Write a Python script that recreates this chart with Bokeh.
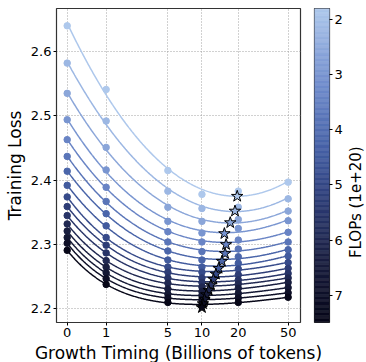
import numpy as np
from bokeh.plotting import figure
from bokeh.layouts import row, column
from bokeh.models import Range1d, FixedTicker, CustomJSTickFormatter
from bokeh.core.properties import value
from bokeh.embed import file_html
from bokeh.resources import INLINE

# ---------------- data ----------------
growth_t = [0, 1, 5, 10, 20, 50]
flops = [1.8, 2.2, 2.6, 3.0, 3.4, 3.8, 4.2, 4.5, 4.9, 5.3, 5.6, 6.0, 6.4, 6.7, 7.1, 7.5]
loss_t0 = [2.640, 2.582, 2.535, 2.494, 2.463, 2.437, 2.414, 2.392, 2.374, 2.359, 2.345, 2.332, 2.321, 2.311, 2.302, 2.291]
loss_t1 = [2.541, 2.492, 2.451, 2.416, 2.389, 2.367, 2.348, 2.329, 2.311, 2.299, 2.287, 2.275, 2.265, 2.256, 2.247, 2.238]
loss_t5 = [2.415, 2.383, 2.358, 2.336, 2.320, 2.304, 2.290, 2.276, 2.265, 2.257, 2.248, 2.240, 2.231, 2.223, 2.217, 2.210]
loss_t10 = [2.378, 2.356, 2.336, 2.318, 2.304, 2.289, 2.276, 2.265, 2.257, 2.248, 2.241, 2.234, 2.227, 2.221, 2.214, 2.206]
loss_t20 = [2.383, 2.358, 2.339, 2.325, 2.307, 2.293, 2.281, 2.271, 2.262, 2.253, 2.245, 2.239, 2.232, 2.224, 2.217, 2.210]
loss_t50 = [2.397, 2.371, 2.352, 2.337, 2.319, 2.304, 2.292, 2.282, 2.272, 2.263, 2.255, 2.248, 2.241, 2.233, 2.225, 2.218]
opt_t = [19.6, 18.8, 17.2, 15.4, 15.9, 15.6, 14.7, 13.8, 13.1, 12.5, 11.9, 11.4, 10.9, 10.5, 10.2, 10.0]
opt_loss = [2.375, 2.352, 2.334, 2.317, 2.300, 2.286, 2.274, 2.263, 2.254, 2.246, 2.237, 2.229, 2.222, 2.215, 2.208, 2.202]
y_ticks = [2.2, 2.3, 2.4, 2.5, 2.6]
cbar_ticks = [2, 3, 4, 5, 6, 7]
cbar_low, cbar_high = 1.8, 7.5
x_label = "Growth Timing (Billions of tokens)"
y_label = "Training Loss"
cbar_label = "FLOPs (1e+20)"

FONT = "DejaVu Sans"

# ---------------- colormap ----------------
stops = [(0.0, (7, 7, 24)), (0.2, (26, 31, 64)), (0.4, (47, 63, 122)),
         (0.55, (69, 96, 165)), (0.75, (111, 139, 203)), (1.0, (174, 200, 236))]

def cmap(frac):
    frac = min(max(frac, 0.0), 1.0)
    for (f0, c0), (f1, c1) in zip(stops[:-1], stops[1:]):
        if frac <= f1:
            w = (frac - f0) / (f1 - f0)
            c = [int(round(a + (b - a) * w)) for a, b in zip(c0, c1)]
            return "#%02x%02x%02x" % tuple(c)
    return "#%02x%02x%02x" % stops[-1][1]

def color_of(v):
    return cmap((cbar_high - v) / (cbar_high - cbar_low))

def fwd(t):
    return np.log10(1.0 + np.asarray(t, dtype=float))

def fit_curve(t, L):
    t = np.asarray(t, dtype=float)
    L = np.asarray(L, dtype=float)
    u = fwd(t)
    best = None
    for a in np.linspace(0.05, 4.0, 400):
        X = np.column_stack([np.ones_like(t), (1 + t) ** (-a), u])
        coef = np.linalg.lstsq(X, L, rcond=None)[0]
        r = float(np.sum((X @ coef - L) ** 2))
        if best is None or r < best[0]:
            best = (r, a, coef)
    return best[1], best[2]

H_MAIN = 342
B_BOT = 20

# ---------------- main figure ----------------
p = figure(width=302, height=H_MAIN, output_backend="svg", toolbar_location=None,
           x_range=Range1d(-0.0827, 1.803), y_range=Range1d(2.1788, 2.6669),
           min_border_left=56, min_border_right=2, min_border_top=6, min_border_bottom=B_BOT)
p.outline_line_color = "#333333"
p.outline_line_width = 1.2

columns = [loss_t0, loss_t1, loss_t5, loss_t10, loss_t20, loss_t50]
u_pts = fwd(growth_t)
u_fine = np.linspace(0, fwd(50), 300)
t_fine = 10 ** u_fine - 1

for i, f in enumerate(flops):
    L = [col[i] for col in columns]
    a, coef = fit_curve(growth_t, L)
    curve = coef[0] + coef[1] * (1 + t_fine) ** (-a) + coef[2] * u_fine
    c = color_of(f)
    p.line(u_fine, curve, line_color=c, line_width=1.5)
    p.scatter(u_pts, L, size=6.5, fill_color=c, line_color=c)

star_colors = [color_of(f) for f in flops]
p.scatter(fwd(opt_t), opt_loss, marker="star", size=12, fill_color=star_colors,
          line_color="black", line_width=1)

p.xaxis.ticker = FixedTicker(ticks=list(u_pts))
p.xaxis.formatter = CustomJSTickFormatter(code="return String(Math.round(Math.pow(10, tick) - 1));")
p.yaxis.ticker = FixedTicker(ticks=y_ticks)
p.yaxis.axis_label = y_label
for ax in (p.xaxis, p.yaxis):
    ax.axis_label_text_font = FONT
    ax.axis_label_text_font_style = "normal"
    ax.axis_label_text_font_size = "17px"
    ax.axis_label_text_color = "black"
    ax.major_label_text_font = FONT
    ax.major_label_text_font_size = "13px"
    ax.major_label_text_color = "black"
    ax.axis_line_color = None
    ax.major_tick_line_color = "black"
    ax.major_tick_out = 3
    ax.major_tick_in = 0
    ax.minor_tick_line_color = None
    ax.major_label_standoff = 2
    ax.axis_label_standoff = 3
p.grid.grid_line_color = "#9a9a9a"
p.grid.grid_line_dash = "1 2"
p.grid.grid_line_width = 1
p.grid.grid_line_alpha = 0.9

# ---------------- colorbar figure ----------------
cb = figure(width=43, height=H_MAIN, output_backend="svg", toolbar_location=None,
            x_range=Range1d(0, 1), y_range=Range1d(7.49, 1.806),
            x_axis_location=None, y_axis_location="right",
            min_border_left=12, min_border_right=14, min_border_top=8, min_border_bottom=B_BOT)
edges = np.linspace(1.806, 7.49, 257)
seg_colors = [color_of(0.5 * (a + b)) for a, b in zip(edges[:-1], edges[1:])]
cb.quad(left=0, right=1, bottom=edges[:-1], top=edges[1:], fill_color=seg_colors,
        line_color=seg_colors, line_width=0.5)
cb.grid.grid_line_color = None
cb.outline_line_color = "#333333"
cb.outline_line_width = 1.2
cb.yaxis.ticker = FixedTicker(ticks=cbar_ticks)
cb.yaxis.major_label_text_font = FONT
cb.yaxis.major_label_text_font_size = "13px"
cb.yaxis.major_label_text_color = "black"
cb.yaxis.axis_line_color = None
cb.yaxis.major_tick_out = 3
cb.yaxis.major_tick_in = 0
cb.yaxis.minor_tick_line_color = None
cb.yaxis.major_label_standoff = 2

# ---------------- colorbar title (rotated text) ----------------
tf = figure(width=21, height=H_MAIN, output_backend="svg", toolbar_location=None,
            x_range=Range1d(0, 21), y_range=Range1d(0, H_MAIN),
            x_axis_location=None, y_axis_location=None, min_border=0)
tf.outline_line_color = None
tf.grid.grid_line_color = None
tf.text(x=[10], y=[H_MAIN - 211], text=[cbar_label], angle=np.pi / 2,
        text_font=value(FONT), text_font_size=value("15px"), text_color="black",
        text_align="center", text_baseline="middle")

# ---------------- x axis label ----------------
H_LAB = 20
xl = figure(width=366, height=H_LAB, output_backend="svg", toolbar_location=None,
            x_range=Range1d(0, 366), y_range=Range1d(0, H_LAB),
            x_axis_location=None, y_axis_location=None, min_border=0)
xl.outline_line_color = None
xl.grid.grid_line_color = None
xl.text(x=[178], y=[H_LAB / 2], text=[x_label],
        text_font=value(FONT), text_font_size=value("17px"), text_color="black",
        text_align="center", text_baseline="middle")

layout = column(row(p, cb, tf), xl)
open("out.html", "w").write(file_html(layout, INLINE))
